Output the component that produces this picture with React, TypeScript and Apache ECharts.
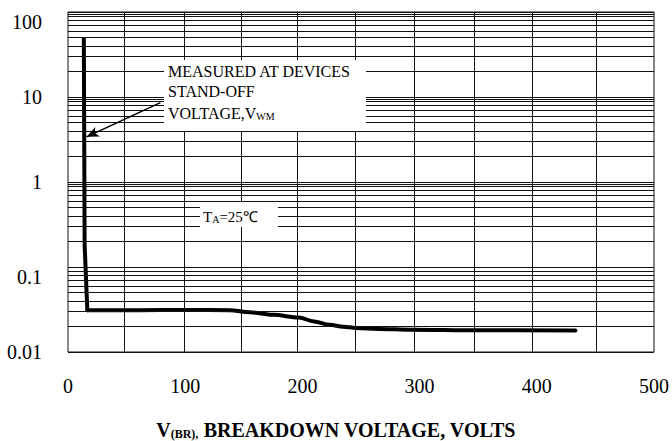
import React, { useEffect, useRef } from "react";
import * as echarts from "echarts";

// ---- data ----
const xTickLabels = ["0", "100", "200", "300", "400", "500"];
const yTickLabels = ["0.01", "0.1", "1", "10", "100"];

// breakdown voltage (V) vs leakage current
const curveVoltage = [13.5, 14.2, 16.5, 60, 100, 138, 155, 175, 197, 210, 223, 235, 246, 265, 293, 350, 433];
const curveCurrent = [48, 0.18, 0.031, 0.031, 0.0312, 0.031, 0.0294, 0.0274, 0.0254, 0.0229, 0.0209, 0.0198, 0.0192, 0.0187, 0.0183, 0.018, 0.0179];
const cornerIndex = 2; // sharp knee of the curve

// hand-drawn grid of the original sheet
const xGridValues = [47.6, 99.2, 147.9, 196, 245.1, 295.5, 347, 395.7, 450.4];
const yGridDecades = [0.01, 0.1, 1, 10];
const yGridMultipliers = [2, 3, 4, 5, 6, 7, 8, 9, 9.5];

// annotation arrow (data coordinates)
const arrowStart = [78.8, 8.6];
const arrowEnd = [15.9, 3.4];

const SERIF = "'Liberation Serif', 'Times New Roman', serif";

export default function App() {
  const ref = useRef<HTMLDivElement>(null);

  useEffect(() => {
    document.body.style.margin = "0";
    if (!ref.current) return;
    const chart = echarts.init(ref.current, undefined, { renderer: "svg" });

    const yMinor: number[] = [];
    yGridDecades.forEach((d) => yGridMultipliers.forEach((m) => yMinor.push(+(d * m).toPrecision(4))));

    const gridLineData: any[] = [
      ...xGridValues.map((x) => ({ xAxis: x })),
      ...yMinor.map((y) => ({ yAxis: y })),
    ];

    const curve = curveVoltage.map((v, i) => [v, curveCurrent[i]]);
    const steepPart = curve.slice(0, cornerIndex + 1);
    const flatPart = curve.slice(cornerIndex);

    const curveStyle = { color: "#000", width: 4, join: "round", cap: "round" };

    chart.setOption({
      animation: false,
      backgroundColor: "#fff",
      grid: {
        left: 68,
        right: 15,
        top: 12,
        bottom: 89,
        show: true,
        borderColor: "#111",
        borderWidth: 1,
        backgroundColor: "transparent",
      },
      xAxis: {
        type: "value",
        min: 0,
        max: 500,
        interval: 100,
        axisLine: { show: false },
        axisTick: { show: false },
        splitLine: { show: false },
        axisLabel: {
          color: "#000",
          fontSize: 20,
          fontFamily: SERIF,
          margin: 24,
          formatter: (v: number) => xTickLabels[Math.round(v / 100)] ?? "",
        },
      },
      yAxis: {
        type: "log",
        logBase: 10,
        min: 0.01,
        max: 100,
        axisLine: { show: false },
        axisTick: { show: false },
        splitLine: { show: true, lineStyle: { color: "#111", width: 1 } },
        axisLabel: {
          color: "#000",
          fontSize: 20,
          fontFamily: SERIF,
          margin: 26,
          formatter: (v: number) => {
            const i = Math.round(Math.log10(v)) + 2;
            const t = yTickLabels[i] ?? "";
            return i === 4 || i === 1 ? `{lo|${t}}` : t;
          },
          rich: {
            lo: { fontSize: 20, fontFamily: SERIF, color: "#000", padding: [19, 0, 0, 0] },
          },
        },
      },
      series: [
        {
          name: "grid",
          type: "line",
          data: [],
          z: 1,
          silent: true,
          markLine: {
            silent: true,
            symbol: ["none", "none"],
            label: { show: false },
            lineStyle: { color: "#111", width: 1, type: "solid" },
            emphasis: { disabled: true },
            data: gridLineData,
          },
        },
        {
          name: "leakage-steep",
          type: "line",
          data: steepPart,
          z: 3,
          symbol: "none",
          smooth: false,
          lineStyle: curveStyle,
        },
        {
          name: "leakage-flat",
          type: "line",
          data: flatPart,
          z: 3,
          symbol: "none",
          smooth: 0.35,
          smoothMonotone: "x",
          lineStyle: curveStyle,
        },
        {
          name: "arrow",
          type: "line",
          data: [],
          z: 20,
          markLine: {
            silent: true,
            symbol: ["none", "arrow"],
            symbolSize: [8, 12],
            label: { show: false },
            lineStyle: { color: "#000", width: 1.5, type: "solid" },
            emphasis: { disabled: true },
            data: [[{ coord: arrowStart }, { coord: arrowEnd }]],
          },
        },
      ],
      graphic: [
        { type: "rect", z: 10, shape: { x: 164, y: 60, width: 202, height: 71 }, style: { fill: "#fff" } },
        {
          type: "text", z: 11, x: 168, y: 71,
          style: { text: "MEASURED AT DEVICES", fill: "#000", fontSize: 16, fontFamily: SERIF, align: "left", verticalAlign: "middle", textAlign: "left", textVerticalAlign: "middle" },
        },
        {
          type: "text", z: 11, x: 168, y: 91,
          style: { text: "STAND-OFF", fill: "#000", fontSize: 16, fontFamily: SERIF, align: "left", verticalAlign: "middle", textAlign: "left", textVerticalAlign: "middle" },
        },
        {
          type: "text", z: 11, x: 168, y: 111,
          style: {
            text: "{m|VOLTAGE,V}{s|WM}", fill: "#000", fontSize: 16, fontFamily: SERIF,
            align: "left", verticalAlign: "middle", textAlign: "left", textVerticalAlign: "middle",
            rich: {
              m: { fontSize: 16, fontFamily: SERIF, fill: "#000", lineHeight: 20, verticalAlign: "bottom" },
              s: { fontSize: 10, fontFamily: SERIF, fill: "#000", lineHeight: 10, verticalAlign: "bottom" },
            },
          },
        },
        { type: "rect", z: 10, shape: { x: 200, y: 202, width: 78, height: 25 }, style: { fill: "#fff" } },
        {
          type: "text", z: 11, x: 203, y: 215,
          style: {
            text: "{m|T}{s|A}{m|=25℃}", fill: "#000", fontSize: 15, fontFamily: SERIF,
            align: "left", verticalAlign: "middle", textAlign: "left", textVerticalAlign: "middle",
            rich: {
              m: { fontSize: 15, fontFamily: SERIF, fill: "#000", lineHeight: 18, verticalAlign: "bottom" },
              s: { fontSize: 10, fontFamily: SERIF, fill: "#000", lineHeight: 10, verticalAlign: "bottom" },
            },
          },
        },
        {
          type: "text", z: 11, x: 336, y: 428,
          style: {
            text: "{m|V}{s|(BR),}{m| BREAKDOWN VOLTAGE, VOLTS}", fill: "#000", fontSize: 20, fontWeight: "bold", fontFamily: SERIF,
            align: "center", verticalAlign: "middle", textAlign: "center", textVerticalAlign: "middle",
            rich: {
              m: { fontSize: 20, fontWeight: "bold", fontFamily: SERIF, fill: "#000", lineHeight: 24, verticalAlign: "bottom" },
              s: { fontSize: 12, fontWeight: "bold", fontFamily: SERIF, fill: "#000", lineHeight: 12, verticalAlign: "bottom" },
            },
          },
        },
      ],
    });

    return () => chart.dispose();
  }, []);

  return <div ref={ref} style={{ width: 672, height: 441 }} />;
}
